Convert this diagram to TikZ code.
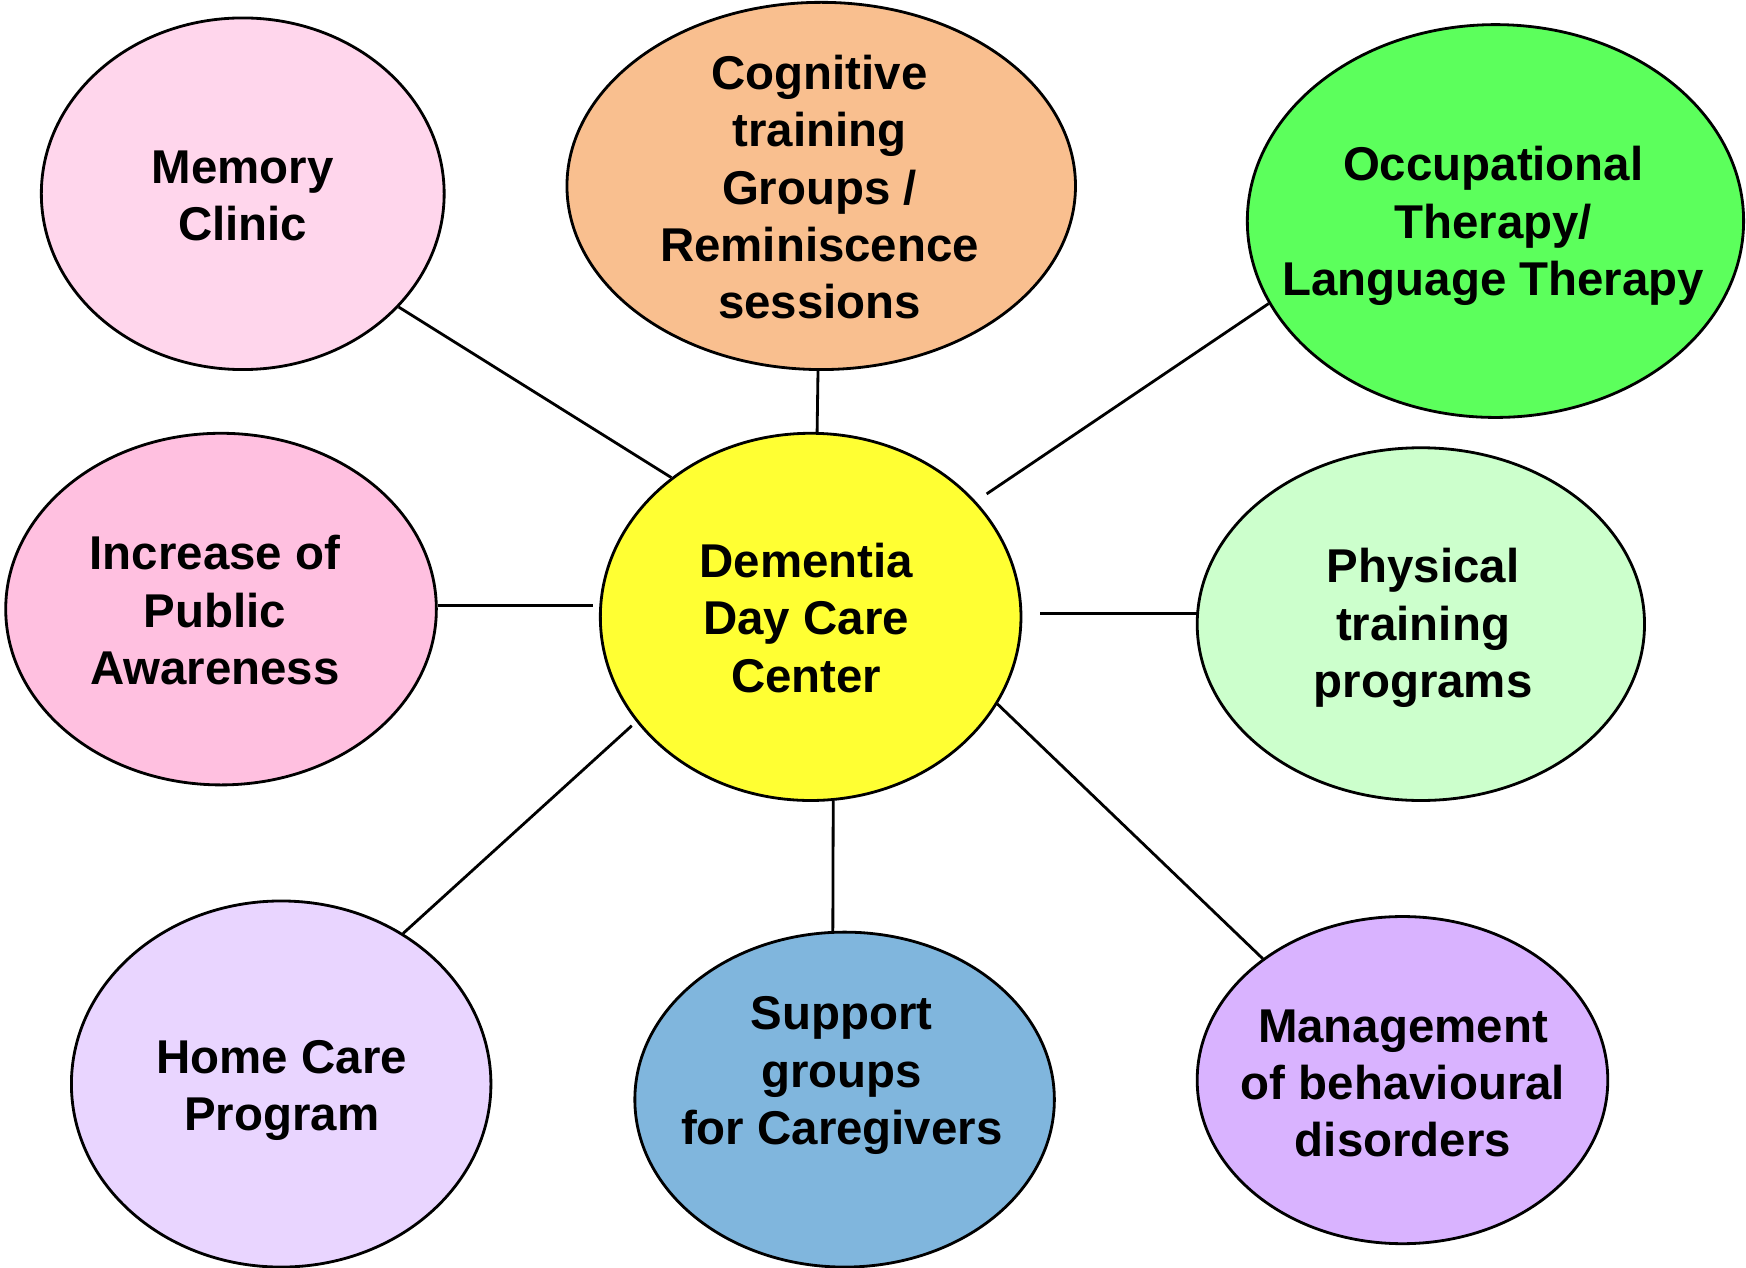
\documentclass[tikz,border=0pt]{standalone}
\usepackage{fontspec}
\setmainfont{Liberation Sans}
\usetikzlibrary{shapes.geometric}

\definecolor{memfill}{HTML}{FFD6EC}
\definecolor{cogfill}{HTML}{F9BF8F}
\definecolor{occfill}{HTML}{5CFF5C}
\definecolor{incfill}{HTML}{FFC0E0}
\definecolor{demfill}{HTML}{FFFF33}
\definecolor{phyfill}{HTML}{CCFFCC}
\definecolor{homefill}{HTML}{E9D5FF}
\definecolor{supfill}{HTML}{80B6DD}
\definecolor{mgmtfill}{HTML}{D9B3FF}

\begin{document}
\begin{tikzpicture}[x=0.011135cm, y=-0.011135cm,
  bubble/.style 2 args={ellipse, draw=black, line width=0.8pt, inner sep=0pt,
    minimum width=#1*0.02227cm, minimum height=#2*0.02227cm},
  caption/.style={font=\bfseries\fontsize{13.5}{16.3}\selectfont, align=center, inner sep=0pt},
  link/.style={draw=black, line width=0.8pt}]
\useasboundingbox (0,0) rectangle (1568,1138);

% bubbles
\node[bubble={181}{158}, fill=memfill]     (mem)  at (218,174)     {};
\node[bubble={228.5}{165}, fill=cogfill]   (cog)  at (737.5,167)   {};
\node[bubble={223}{176.5}, fill=occfill]   (occ)  at (1343,198.5)  {};
\node[bubble={193.5}{158}, fill=incfill]   (inc)  at (198.5,547)   {};
\node[bubble={189}{165}, fill=demfill]     (dem)  at (728,554)     {};
\node[bubble={201}{158.5}, fill=phyfill]   (phy)  at (1276,560.5)  {};
\node[bubble={188.5}{164.5}, fill=homefill] (home) at (252.5,973.5) {};
\node[bubble={188.5}{150.5}, fill=supfill] (sup)  at (758.5,987.5) {};
\node[bubble={184.5}{147}, fill=mgmtfill]  (mgmt) at (1259.5,970)  {};

% captions
\node[caption] (memt)  at (218,176)  {Memory\\Clinic};
\node[caption] (cogt)  at (736,168)  {Cognitive\\training\\Groups /\\Reminiscence\\sessions};
\node[caption] (occt)  at (1341,203) {Occupational\\Therapy/\\Language Therapy};
\node[caption] (inct)  at (193,548)  {Increase of\\Public\\Awareness};
\node[caption] (demt)  at (724,555)  {Dementia\\Day Care\\Center};
\node[caption] (phyt)  at (1278,564) {Physical\\training\\programs};
\node[caption] (homet) at (253,979)  {Home Care\\Program};
\node[caption] (supt)  at (756,966)  {Support\\groups\\for Caregivers};
\node[caption] (mgmtt) at (1260,973) {Management\\of behavioural\\disorders};

% spokes
\draw[link] (mem.-36.9) -- (dem.135.7);
\draw[link] (cog.-91) -- (dem.88);
\draw[link, shorten >=0.13cm] (occ.200.5) -- (dem.35.9);
\draw[link, shorten >=0.067cm] (inc.1.5) -- (inc.1.5 -| dem.176.4);
\draw[link, shorten <=0.18cm] (dem.1.7) -- (dem.1.7 -| phy.176.4);
\draw[link, shorten >=0.06cm] (home.51.5) -- (dem.211.6);
\draw[link] (dem.-83) -- (sup.94);
\draw[link] (dem.-25.3) -- (mgmt.139.5);
\end{tikzpicture}
\end{document}
